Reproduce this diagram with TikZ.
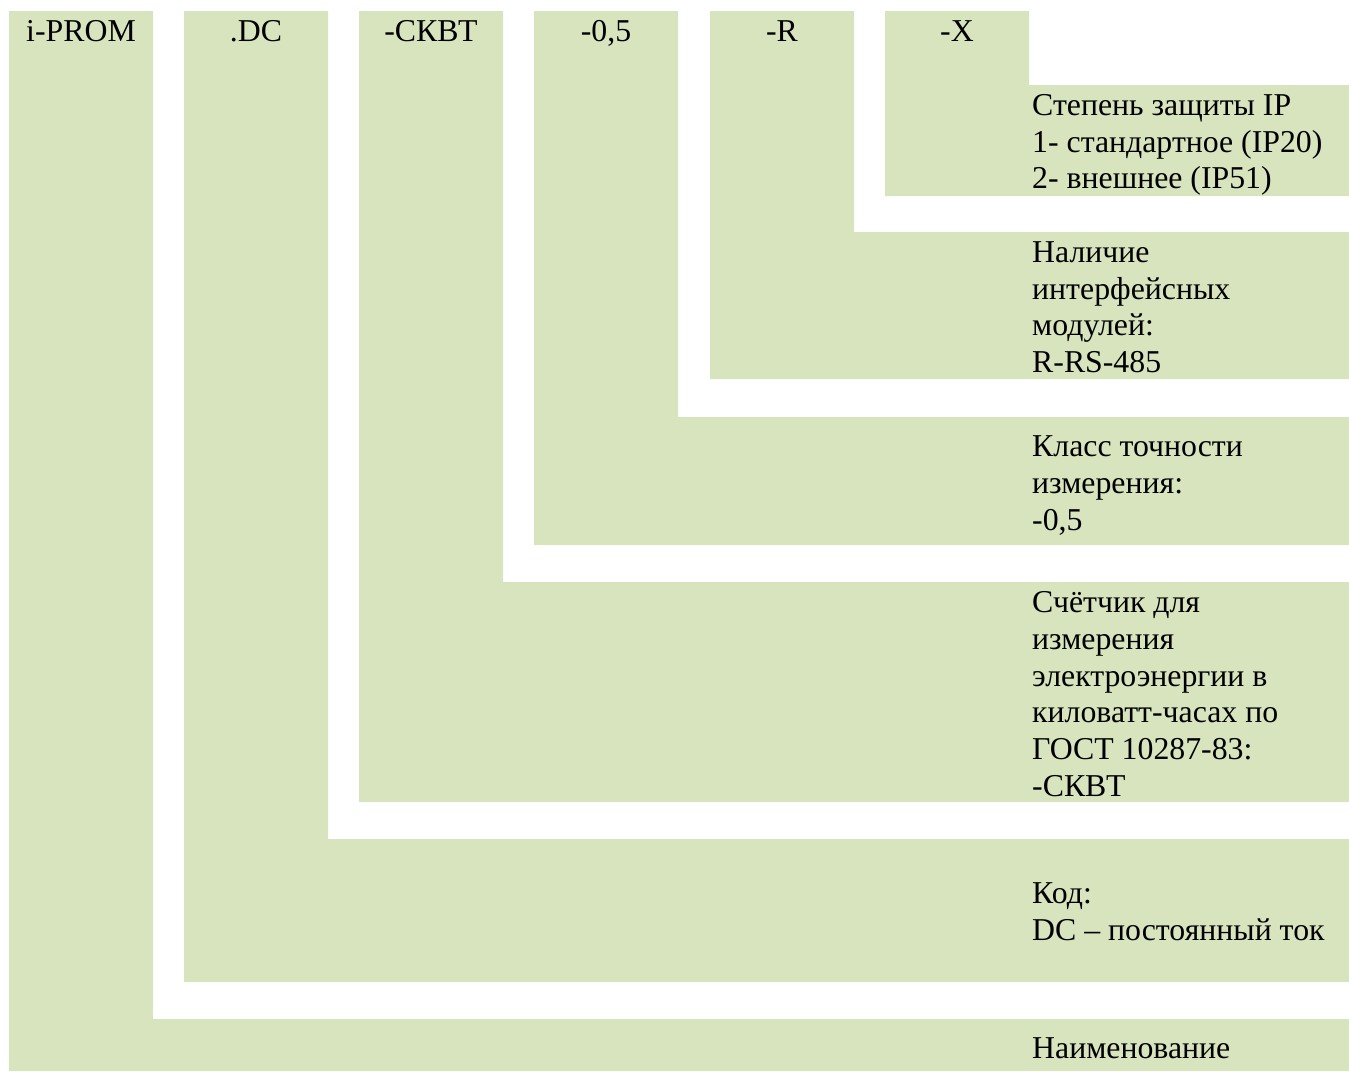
\documentclass[tikz,border=0pt]{standalone}
\usepackage{fontspec}
\setmainfont{Liberation Serif}
\definecolor{lgreen}{HTML}{D7E4BD}
\begin{document}
\begin{tikzpicture}[x=1pt,y=-1pt,
  lshape/.style={fill=lgreen,draw=none},
  code/.style={anchor=base,inner sep=0pt,font=\fontsize{31.8}{36.8}\selectfont},
  desc/.style={anchor=north west,inner sep=0pt,align=left,font=\fontsize{31.8}{36.8}\selectfont}]
\useasboundingbox (0,0) rectangle (1349,1071);
% L-shaped fields
\fill[lshape] (9,11) -- (153,11) -- (153,1019) -- (1349,1019) -- (1349,1071) -- (9,1071) -- cycle;
\fill[lshape] (184,11) -- (328,11) -- (328,839) -- (1349,839) -- (1349,982) -- (184,982) -- cycle;
\fill[lshape] (359,11) -- (503,11) -- (503,582) -- (1349,582) -- (1349,802) -- (359,802) -- cycle;
\fill[lshape] (534,11) -- (678,11) -- (678,417) -- (1349,417) -- (1349,545) -- (534,545) -- cycle;
\fill[lshape] (710,11) -- (854,11) -- (854,232) -- (1349,232) -- (1349,379) -- (710,379) -- cycle;
\fill[lshape] (885,11) -- (1029,11) -- (1029,85) -- (1349,85) -- (1349,196) -- (885,196) -- cycle;
% code parts
\node[code] (c1) at (81,41.7) {i-PROM};
\node[code] (c2) at (256,41.7) {.DC};
\node[code] (c3) at (431,41.7) {-СКВТ};
\node[code] (c4) at (606,41.7) {-0,5};
\node[code] (c5) at (782,41.7) {-R};
\node[code] (c6) at (957,41.7) {-X};
% descriptions
\node[desc] (d6) at (1032,{115-25.76}) {\strut Степень защиты IP\\1- стандартное (IP20)\\2- внешнее (IP51)};
\node[desc] (d5) at (1032,{262-25.76}) {\strut Наличие\\интерфейсных\\модулей:\\R-RS-485};
\node[desc] (d4) at (1032,{456.7-25.76}) {\strut Класс точности\\измерения:\\-0,5};
\node[desc] (d3) at (1032,{612.3-25.76}) {\strut Счётчик для\\измерения\\электроэнергии в\\киловатт-часах по\\ГОСТ 10287-83:\\-СКВТ};
\node[desc] (d2) at (1032,{903.3-25.76}) {\strut Код:\\DC – постоянный ток};
\node[desc] (d1) at (1032,{1058.3-25.76}) {\strut Наименование};
\end{tikzpicture}
\end{document}
